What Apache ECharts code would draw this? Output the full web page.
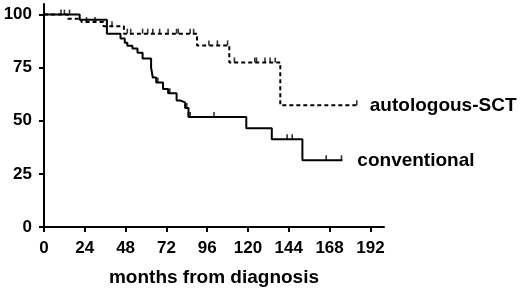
<!DOCTYPE html>
<html>
<head>
<meta charset="utf-8">
<script src="https://cdn.jsdelivr.net/npm/echarts@6/dist/echarts.min.js"></script>
<style>
  html, body { margin: 0; padding: 0; background: #fff; }
  #chart { width: 520px; height: 288px; }
</style>
</head>
<body>
<div id="chart"></div>
<script>
// survival steps: [month, % surviving after that month]
var autoSteps = [[0, 100], [14, 98], [22, 96.5], [35, 94.5], [47, 91], [90, 85.5], [109, 77.5], [139, 57.3], [184, 57.3]];
var convSteps = [[0, 100], [21, 97.6], [37, 91], [45, 88.7], [47.5, 86.8], [49, 85.4], [52, 84], [55, 82], [58, 79.3],
  [63, 75], [64, 70.4], [66, 68], [70, 65], [73, 63], [78, 59.6], [80, 58.7], [83, 56], [85, 51.8],
  [119, 46.5], [134, 41.3], [152, 31.4], [175.5, 31.4]];

// censored observations
var autoCensor = [[10, 100], [12, 100], [15, 100], [25, 96.5], [30, 96.5], [40, 94.5], [49, 91], [51, 91], [58, 91],
  [61, 91], [64, 91], [68, 91], [73, 91], [78, 91], [79, 91], [86, 91], [88, 91], [97, 85.5], [102, 85.5],
  [108, 85.5], [112, 77.5], [124, 77.5], [125, 77.5], [130, 77.5], [133, 77.5], [136, 77.5], [184, 57.3]];
var convCensor = [[67, 68], [74, 63], [84, 56], [85, 51.8], [86, 51.8], [100, 51.8], [143, 41.3], [146, 41.3],
  [166, 31.4], [175, 31.4]];

var xTicks = [0, 24, 48, 72, 96, 120, 144, 168, 192];
var yTicks = [0, 25, 50, 75, 100];
var seriesNames = ['autologous-SCT', 'conventional'];

var font = 'Liberation Sans, Arial, sans-serif';
var chart = echarts.init(document.getElementById('chart'));

function censorSeries(d) {
  return {
    type: 'scatter',
    data: d,
    symbol: 'rect',
    symbolSize: [1.6, 5],
    symbolOffset: [0, -2.5],
    itemStyle: { color: '#000' },
    silent: true,
    z: 3
  };
}

chart.setOption({
  animation: false,
  grid: { left: 44, right: 136, top: 4, bottom: 61, outerBoundsMode: 'none', containLabel: false },
  xAxis: {
    type: 'value',
    min: 0,
    max: 200,
    name: 'months from diagnosis',
    nameLocation: 'middle',
    nameGap: 41,
    nameTextStyle: { fontFamily: font, fontWeight: 'bold', fontSize: 19, color: '#000' },
    axisLine: { show: true, lineStyle: { color: '#000', width: 2 } },
    axisTick: { show: true, customValues: xTicks, length: 5, lineStyle: { color: '#000', width: 2 } },
    axisLabel: { customValues: xTicks, margin: 13, fontFamily: font, fontWeight: 'bold', fontSize: 17, color: '#000' },
    splitLine: { show: false }
  },
  yAxis: {
    type: 'value',
    min: 0,
    max: 105,
    axisLine: { show: true, lineStyle: { color: '#000', width: 2 } },
    axisTick: { show: true, customValues: yTicks, length: 5, lineStyle: { color: '#000', width: 2 } },
    axisLabel: { customValues: yTicks, margin: 12, fontFamily: font, fontWeight: 'bold', fontSize: 17, color: '#000' },
    splitLine: { show: false }
  },
  series: [
    {
      name: seriesNames[0],
      type: 'line',
      step: 'end',
      data: autoSteps,
      showSymbol: false,
      lineStyle: { color: '#000', width: 2, type: [4, 3] },
      endLabel: {
        show: true, distance: 13, formatter: '{a}',
        fontFamily: font, fontWeight: 'bold', fontSize: 19, color: '#000'
      },
      z: 2
    },
    {
      name: seriesNames[1],
      type: 'line',
      step: 'end',
      data: convSteps,
      showSymbol: false,
      lineStyle: { color: '#000', width: 2 },
      endLabel: {
        show: true, distance: 15, formatter: '{a}',
        fontFamily: font, fontWeight: 'bold', fontSize: 19, color: '#000'
      },
      z: 2
    },
    censorSeries(autoCensor),
    censorSeries(convCensor)
  ]
});
</script>
</body>
</html>
